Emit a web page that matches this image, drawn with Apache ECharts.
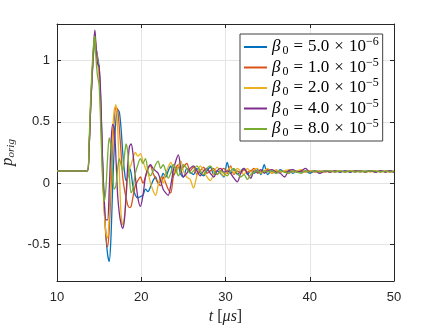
<!DOCTYPE html>
<html>
<head>
<meta charset="utf-8">
<script src="https://cdn.jsdelivr.net/npm/echarts@6/dist/echarts.min.js"></script>
<style>
  body { margin: 0; background: #fff; }
  #main { width: 436px; height: 327px; }
</style>
</head>
<body>
<div id="main"></div>
<script>
// time axis in microseconds (shared by all series)
const times = [
  10, 13.6, 13.8, 14.0, 14.2, 14.4, 14.5, 14.6, 14.8, 15.0,
  15.2, 15.4, 15.6, 15.8, 16.0, 16.2, 16.4, 16.6, 16.8, 17.0,
  17.2, 17.4, 17.6, 17.8, 18.0, 18.2, 18.4, 18.6, 18.8, 19.0,
  19.3, 19.6, 19.9, 20.2, 20.5, 20.8, 21.1, 21.4, 21.7, 22.0,
  22.3, 22.6, 22.9, 23.2, 23.5, 23.8, 24.1, 24.4, 24.7, 25.0,
  25.4, 25.8, 26.2, 26.6, 27.0, 27.4, 27.8, 28.2, 28.6, 29.0,
  29.4, 29.8, 30.2, 30.6, 31.0, 31.4, 31.8, 32.2, 32.6, 33.0,
  33.4, 33.8, 34.2, 34.6, 35.0, 35.5, 36.0, 36.5, 37.0, 37.5,
  38.0, 38.5, 39.0, 39.5, 40.0, 40.6, 41.2, 41.8, 42.4, 43.0,
  43.6, 44.2, 44.8, 45.4, 46.0, 46.6, 47.2, 47.8, 48.4, 49.0,
  49.5, 50.0
];

// p_orig for beta0 = 5.0e-6
const beta5e6 = [
  0.1, 0.1, 0.27, 0.62, 0.9, 1.12, 1.18, 1.12, 1.04, 0.95,
  0.65, 0.2, -0.15, -0.42, -0.58, -0.64, -0.45, -0.05, 0.3, 0.52,
  0.6, 0.58, 0.45, 0.25, 0.1, 0.02, 0.05, 0.12, 0.08, -0.02,
  -0.1, -0.12, -0.11, -0.1, -0.05, -0.07, -0.03, 0.02, 0.05, 0.0,
  0.02, 0.08, 0.05, 0.1, 0.14, 0.06, 0.1, 0.13, 0.07, 0.05,
  0.12, 0.09, 0.07, 0.12, 0.08, 0.06, 0.1, 0.13, 0.07, 0.1,
  0.08, 0.05, 0.17, 0.08, 0.11, 0.07, 0.1, 0.12, 0.07, 0.1,
  0.08, 0.11, 0.07, 0.15, 0.07, 0.1, 0.08, 0.11, 0.09, 0.1,
  0.08, 0.1, 0.09, 0.1, 0.08, 0.1, 0.09, 0.1, 0.09, 0.1,
  0.09, 0.1, 0.09, 0.1, 0.09, 0.1, 0.1, 0.09, 0.1, 0.095,
  0.1, 0.09
];

// beta0 = 1.0e-5
const beta1e5 = [
  0.1, 0.1, 0.28, 0.64, 0.92, 1.14, 1.2, 1.13, 1.02, 0.9,
  0.6, 0.15, -0.2, -0.43, -0.52, -0.38, -0.05, 0.3, 0.52, 0.62,
  0.6, 0.45, 0.25, 0.05, -0.05, -0.12, -0.18, -0.2, -0.19, -0.12,
  -0.02, 0.02, 0.05, 0.0, 0.05, 0.12, 0.14, 0.08, 0.04, 0.0,
  -0.02, 0.05, 0.0, -0.05, -0.08, 0.05, 0.12, 0.15, 0.1, 0.13,
  0.16, 0.1, 0.13, 0.07, 0.1, 0.13, 0.08, 0.1, 0.12, 0.07,
  0.1, 0.12, 0.08, 0.14, 0.07, 0.1, 0.08, 0.11, 0.09, 0.1,
  0.12, 0.08, 0.1, 0.09, 0.11, 0.08, 0.1, 0.09, 0.1, 0.08,
  0.1, 0.09, 0.1, 0.09, 0.1, 0.09, 0.1, 0.09, 0.1, 0.09,
  0.1, 0.09, 0.1, 0.09, 0.1, 0.09, 0.1, 0.09, 0.1, 0.09,
  0.1, 0.09
];

// beta0 = 2.0e-5
const beta2e5 = [
  0.1, 0.1, 0.29, 0.65, 0.93, 1.15, 1.21, 1.12, 1.0, 0.88,
  0.55, 0.1, -0.22, -0.4, -0.45, -0.25, 0.1, 0.42, 0.6, 0.64,
  0.45, 0.1, -0.25, -0.34, -0.28, -0.12, 0.05, 0.12, 0.15, 0.2,
  0.25, 0.22, 0.24, 0.18, 0.12, 0.08, 0.0, -0.06, -0.1, -0.02,
  0.05, 0.0, 0.08, 0.13, 0.17, 0.12, 0.08, 0.14, 0.18, 0.1,
  0.05, 0.03, -0.04, 0.06, 0.14, 0.1, 0.05, 0.02, 0.08, 0.13,
  0.09, 0.06, 0.1, 0.13, 0.08, 0.12, 0.1, 0.07, 0.12, 0.09,
  0.11, 0.12, 0.08, 0.1, 0.12, 0.08, 0.11, 0.09, 0.1, 0.11,
  0.09, 0.1, 0.11, 0.09, 0.1, 0.1, 0.09, 0.1, 0.09, 0.1,
  0.1, 0.09, 0.1, 0.1, 0.09, 0.1, 0.09, 0.1, 0.09, 0.1,
  0.09, 0.1
];

// beta0 = 4.0e-5
const beta4e5 = [
  0.1, 0.1, 0.27, 0.63, 0.93, 1.18, 1.25, 1.15, 0.98, 0.95,
  0.7, 0.2, -0.12, -0.3, -0.3, -0.05, 0.3, 0.48, 0.45, 0.2,
  -0.1, -0.25, -0.33, -0.37, -0.3, -0.1, 0.15, 0.3, 0.32, 0.25,
  0.05, -0.12, -0.19, -0.1, 0.05, 0.12, 0.15, 0.12, 0.1, 0.08,
  0.02, -0.05, -0.08, -0.1, -0.02, 0.1, 0.18, 0.23, 0.12, 0.05,
  0.08, 0.12, 0.14, 0.1, 0.06, 0.1, 0.12, 0.08, 0.05, 0.1,
  0.12, 0.09, 0.1, 0.08, 0.04, 0.01, 0.08, 0.12, 0.08, 0.04,
  0.1, 0.09, 0.11, 0.08, 0.1, 0.11, 0.09, 0.08, 0.05, 0.1,
  0.11, 0.09, 0.1, 0.12, 0.09, 0.1, 0.08, 0.1, 0.09, 0.1,
  0.09, 0.1, 0.09, 0.1, 0.1, 0.09, 0.1, 0.09, 0.1, 0.09,
  0.1, 0.09
];

// beta0 = 8.0e-5
const beta8e5 = [
  0.1, 0.1, 0.32, 0.7, 0.98, 1.18, 1.2, 1.05, 0.88, 0.8,
  0.45, 0.05, -0.15, -0.05, 0.2, 0.37, 0.3, 0.08, -0.05, -0.02,
  0.12, 0.2, 0.15, 0.1, 0.22, 0.32, 0.25, 0.05, -0.08, -0.05,
  0.08, 0.15, 0.2, 0.16, 0.2, 0.1, 0.06, 0.1, 0.15, 0.18,
  0.12, 0.15, 0.1, 0.04, 0.08, 0.15, 0.12, 0.06, 0.1, 0.15,
  0.12, 0.08, 0.1, 0.14, 0.1, 0.07, 0.12, 0.14, 0.1, 0.07,
  0.1, 0.08, 0.06, 0.1, 0.12, 0.08, 0.05, 0.07, 0.03, 0.07,
  0.09, 0.1, 0.08, 0.1, 0.09, 0.1, 0.08, 0.1, 0.09, 0.08,
  0.1, 0.09, 0.08, 0.1, 0.09, 0.1, 0.09, 0.1, 0.1, 0.09,
  0.1, 0.09, 0.1, 0.09, 0.1, 0.09, 0.1, 0.1, 0.09, 0.1,
  0.09, 0.1
];

const seriesNames = ['b5e-6', 'b1e-5', 'b2e-5', 'b4e-5', 'b8e-5'];
const legendMant = ['5.0', '1.0', '2.0', '4.0', '8.0'];
const legendExp = ['\u22126', '\u22125', '\u22125', '\u22125', '\u22125'];
const seriesValues = [beta5e6, beta1e5, beta2e5, beta4e5, beta8e5];
const colors = ['#0072BD', '#D95319', '#EDB120', '#7E2F8E', '#77AC30'];

const yTicks = [-0.5, 0, 0.5, 1];

const axisColor = '#262626';
const gridColor = '#e5e5e5';
const tickFont = 'Liberation Sans';
const serif = 'Liberation Serif';

const myChart = echarts.init(document.getElementById('main'));

myChart.setOption({
  animation: false,
  backgroundColor: '#fff',
  color: colors,
  grid: { left: 57, right: 42, top: 24, bottom: 46, containLabel: false, outerBoundsMode: 'none' },
  legend: {
    orient: 'vertical',
    left: 240,
    top: 34,
    padding: [2, 4, 1, 3],
    itemWidth: 23,
    itemHeight: 14,
    itemGap: -1.5,
    backgroundColor: '#fff',
    borderColor: '#404040',
    borderWidth: 1,
    itemStyle: { opacity: 0 },
    data: seriesNames,
    formatter: function (name) {
      const i = seriesNames.indexOf(name);
      return '{b|\u03b2}{s|0}{o|=}{t|' + legendMant[i] + '}{o|\u00d7}{t|10}{e|' + legendExp[i] + '}';
    },
    textStyle: {
      fontFamily: serif,
      color: '#000',
      rich: {
        b: { fontFamily: serif, fontStyle: 'italic', fontSize: 17, lineHeight: 18 },
        s: { fontFamily: serif, fontSize: 12, padding: [8, 0, 0, 2], lineHeight: 10 },
        o: { fontFamily: serif, fontSize: 17, lineHeight: 18, padding: [0, 5, 0, 5] },
        t: { fontFamily: serif, fontSize: 17, lineHeight: 18 },
        e: { fontFamily: serif, fontSize: 12, padding: [0, 0, 10, 0], lineHeight: 8 },
      },
    },
  },
  xAxis: [{
    type: 'value',
    min: 10,
    max: 50,
    interval: 10,
    name: '{i|t} [{i|\u03bcs}]',
    nameLocation: 'middle',
    nameGap: 27,
    nameTextStyle: {
      fontFamily: serif,
      fontSize: 16,
      color: axisColor,
      rich: {
        i: { fontFamily: serif, fontStyle: 'italic', fontSize: 16, color: axisColor },
      },
    },
    axisLine: { show: true, onZero: false, lineStyle: { color: axisColor, width: 1 } },
    axisTick: { show: true, inside: true, length: 4, lineStyle: { color: axisColor } },
    axisLabel: { fontFamily: tickFont, fontSize: 13, color: axisColor, margin: 10 },
    splitLine: { show: true, lineStyle: { color: gridColor, width: 1 } },
  }, {
    type: 'value',
    position: 'top',
    min: 10,
    max: 50,
    interval: 10,
    axisLine: { show: true, onZero: false, lineStyle: { color: axisColor, width: 1 } },
    axisTick: { show: true, inside: true, length: 4, lineStyle: { color: axisColor } },
    axisLabel: { show: false },
    splitLine: { show: false },
  }],
  yAxis: [{
    type: 'value',
    min: -0.8,
    max: 1.3,
    name: '{i|p}{s|orig}',
    nameLocation: 'middle',
    nameRotate: 90,
    nameGap: 34,
    nameTextStyle: {
      fontFamily: serif,
      color: axisColor,
      rich: {
        i: { fontFamily: serif, fontStyle: 'italic', fontSize: 17, color: axisColor },
        s: { fontFamily: serif, fontStyle: 'italic', fontSize: 11, color: axisColor, padding: [7, 0, 0, 0] },
      },
    },
    axisLine: { show: true, onZero: false, lineStyle: { color: axisColor, width: 1 } },
    axisTick: { show: true, inside: true, length: 4, customValues: yTicks, lineStyle: { color: axisColor } },
    axisLabel: { fontFamily: tickFont, fontSize: 13, color: axisColor, margin: 7, customValues: yTicks },
    splitLine: { show: true, lineStyle: { color: gridColor, width: 1 } },
  }, {
    type: 'value',
    position: 'right',
    min: -0.8,
    max: 1.3,
    axisLine: { show: true, onZero: false, lineStyle: { color: axisColor, width: 1 } },
    axisTick: { show: true, inside: true, length: 4, customValues: yTicks, lineStyle: { color: axisColor } },
    axisLabel: { show: false },
    splitLine: { show: false },
  }],
  series: seriesNames.map(function (name, k) {
    return {
      name: name,
      type: 'line',
      xAxisIndex: 0,
      yAxisIndex: 0,
      data: times.map(function (t, j) { return [t, seriesValues[k][j]]; }),
      showSymbol: false,
      symbol: 'none',
      smooth: 0.3,
      lineStyle: { width: 1.3, color: colors[k] },
      itemStyle: { color: colors[k] },
    };
  }),
});
</script>
</body>
</html>
